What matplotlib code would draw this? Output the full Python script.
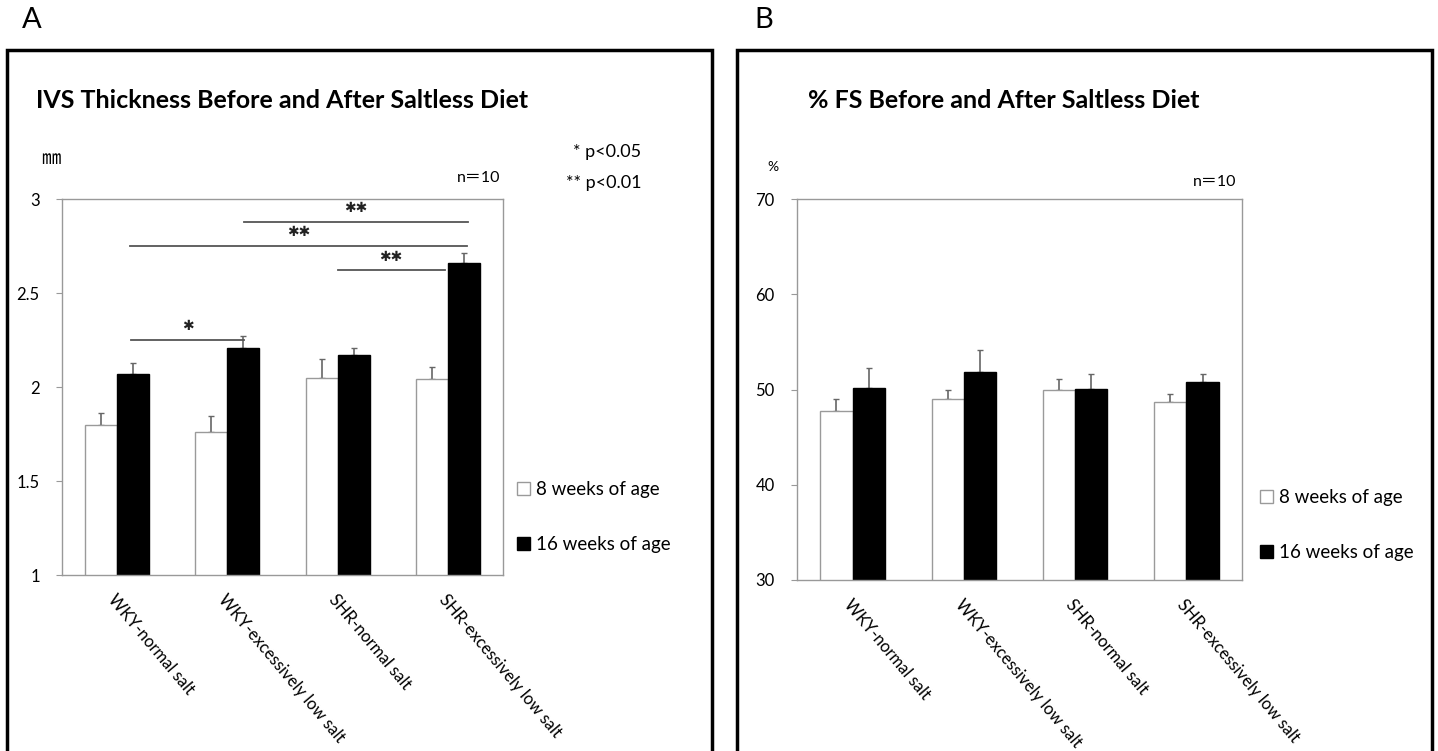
#!/usr/bin/env python3
import matplotlib
matplotlib.use("Agg")
import matplotlib.pyplot as plt
from matplotlib.patches import Patch, Rectangle
import numpy as np

W, H = 1438, 751

groups = ["WKY-normal salt", "WKY-excessively low salt",
          "SHR-normal salt", "SHR-excessively low salt"]
series = ["8 weeks of age", "16 weeks of age"]

ivs_8wk = [1.80, 1.76, 2.05, 2.04]
ivs_8wk_sd = [0.06, 0.085, 0.10, 0.065]
ivs_16wk = [2.07, 2.21, 2.17, 2.66]
ivs_16wk_sd = [0.06, 0.06, 0.04, 0.055]

fs_8wk = [47.7, 49.0, 50.0, 48.7]
fs_8wk_sd = [1.3, 1.0, 1.05, 0.8]
fs_16wk = [50.2, 51.8, 50.1, 50.8]
fs_16wk_sd = [2.1, 2.3, 1.5, 0.8]

# significance brackets: (x start, x end, height, label) in data units
ivs_brackets = [
    (0.13, 1.15, 2.25, "✱"),
    (2.00, 2.97, 2.62, "✱✱"),
    (0.12, 3.17, 2.75, "✱✱"),
    (1.15, 3.18, 2.88, "✱✱"),
]

FONT = ["Lato", "Noto Sans CJK JP", "DejaVu Sans"]
plt.rcParams["font.family"] = FONT

BAR_W = 0.29
EDGE = "#9a9a9a"


def fx(x):
    return x / W


def fy(y):
    return 1 - y / H


def axes_px(fig, left, top, right, bottom):
    return fig.add_axes([fx(left), fy(bottom), (right - left) / W, (bottom - top) / H])


def draw_bars(ax, v8, e8, v16, e16, ylim, yticks, tick_fmt):
    x = np.arange(len(groups))
    ax.bar(x - BAR_W / 2, v8, BAR_W, color="white", edgecolor=EDGE, linewidth=1.0, zorder=2)
    ax.bar(x + BAR_W / 2, v16, BAR_W, color="black", edgecolor="black", linewidth=1.0, zorder=2)
    zeros = [0] * len(groups)
    ax.errorbar(x - BAR_W / 2, v8, yerr=[zeros, e8], fmt="none", ecolor="#666666",
                elinewidth=1.2, capsize=2.5, capthick=1.0, zorder=1)
    ax.errorbar(x + BAR_W / 2, v16, yerr=[zeros, e16], fmt="none", ecolor="#666666",
                elinewidth=1.2, capsize=2.5, capthick=1.0, zorder=1)
    ax.set_xlim(-0.5, len(groups) - 0.5)
    ax.set_ylim(*ylim)
    ax.set_yticks(yticks)
    ax.set_yticklabels([tick_fmt(t) for t in yticks], fontsize=12)
    ax.set_xticks(x)
    ax.set_xticklabels(groups, rotation=-50, ha="left", va="top",
                       rotation_mode="anchor", fontsize=12)
    ax.tick_params(axis="x", length=0, pad=12)
    ax.tick_params(axis="y", length=4, color="#999999", direction="out", pad=12)
    for s in ax.spines.values():
        s.set_color("#999999")
        s.set_linewidth(1.0)


def draw_legend(fig, left, top):
    handles = [Patch(facecolor="white", edgecolor=EDGE, linewidth=1.0),
               Patch(facecolor="black", edgecolor="black")]
    fig.legend(handles, series, loc="upper left", bbox_to_anchor=(fx(left), fy(top)),
               frameon=False, fontsize=13.5, handlelength=0.7, handleheight=0.7,
               handletextpad=0.3, labelspacing=2.05, borderpad=0, borderaxespad=0)


fig = plt.figure(figsize=(W / 100, H / 100), dpi=100)

# panel frames
for left, right in [(7, 712), (737, 1432)]:
    fig.patches.append(Rectangle((fx(left), fy(770)), (right - left) / W, (770 - 50) / H,
                                 transform=fig.transFigure, fill=False,
                                 edgecolor="black", linewidth=2.5))

fig.text(fx(22), fy(20), "A", fontsize=21, va="center", ha="left")
fig.text(fx(754), fy(20), "B", fontsize=21, va="center", ha="left")

# panel A
axA = axes_px(fig, 62, 199, 503, 575)
draw_bars(axA, ivs_8wk, ivs_8wk_sd, ivs_16wk, ivs_16wk_sd, (1, 3),
          [1, 1.5, 2, 2.5, 3], lambda t: f"{t:g}")
for x0, x1, y, label in ivs_brackets:
    axA.plot([x0, x1], [y, y], color="#555555", linewidth=1.3, zorder=3)
    axA.text((x0 + x1) / 2, y + 0.035, label, ha="center", va="bottom",
             fontsize=10, family=["DejaVu Sans"], color="#222222")

fig.text(fx(36), fy(100), "IVS Thickness Before and After Saltless Diet",
         fontsize=18, fontweight="bold", va="center", ha="left")
fig.text(fx(41), fy(159), "㎜", fontsize=14, va="center", ha="left")
fig.text(fx(500), fy(178), "n＝10", fontsize=11.5, va="center", ha="right")
fig.text(fx(641), fy(152), "* p<0.05", fontsize=13, va="center", ha="right")
fig.text(fx(641), fy(183), "** p<0.01", fontsize=13, va="center", ha="right")
draw_legend(fig, 517, 481)

# panel B
axB = axes_px(fig, 797, 199, 1242, 580)
draw_bars(axB, fs_8wk, fs_8wk_sd, fs_16wk, fs_16wk_sd, (30, 70),
          [30, 40, 50, 60, 70], lambda t: f"{t:g}")

fig.text(fx(808), fy(100), "% FS Before and After Saltless Diet",
         fontsize=18, fontweight="bold", va="center", ha="left")
fig.text(fx(767), fy(167), "%", fontsize=10, va="center", ha="left")
fig.text(fx(1236), fy(182), "n＝10", fontsize=11.5, va="center", ha="right")
draw_legend(fig, 1260, 489)

fig.savefig("out.png", dpi=100)
